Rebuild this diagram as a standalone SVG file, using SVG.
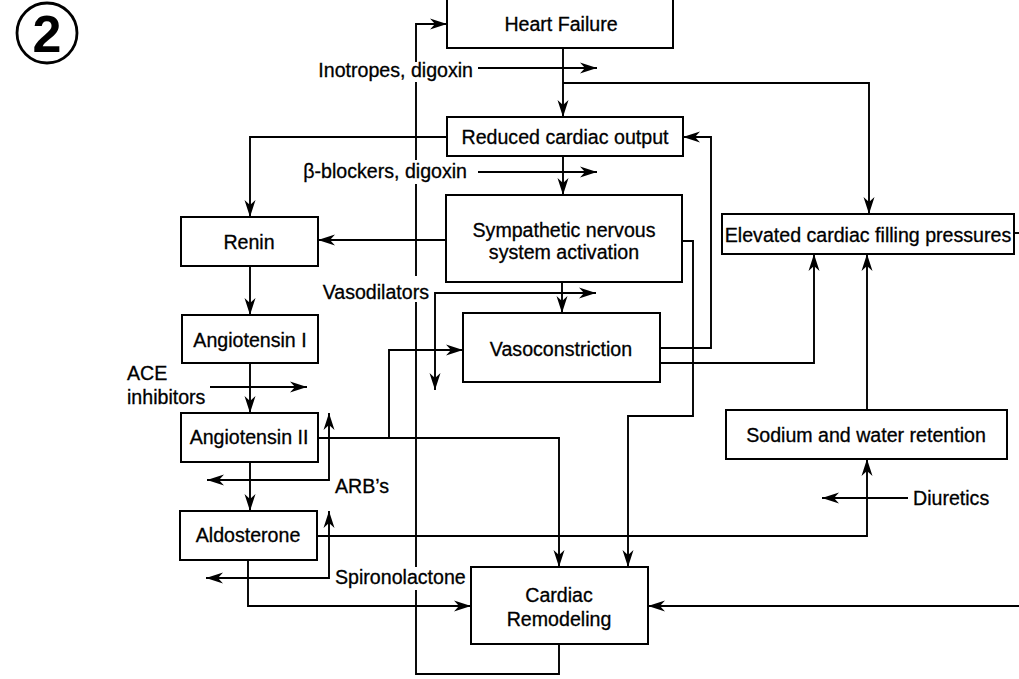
<svg xmlns="http://www.w3.org/2000/svg" width="1019" height="679" viewBox="0 0 1019 679">
<style>
.box{fill:#fff;stroke:#000;stroke-width:2}
.t{font-family:"Liberation Sans",Arial,sans-serif;font-size:19.6px;fill:#000;stroke:#000;stroke-width:0.3}
.c{text-anchor:middle}
.e{text-anchor:end}
.ln{fill:none;stroke:#000;stroke-width:1.9}
</style>
<defs>
<marker id="ah" markerUnits="userSpaceOnUse" markerWidth="20" markerHeight="14" viewBox="-18 -7 20 14" refX="0" refY="0" orient="auto-start-reverse">
<path d="M0,0 L-17,-5.5 L-12,0 L-17,5.5 Z" fill="#000"/>
</marker>
</defs>
<rect width="1019" height="679" fill="#fff"/>

<g id="label-2">
<circle cx="47" cy="33" r="30" fill="none" stroke="#000" stroke-width="2.8"/>
<text x="47" y="52" class="c" style="font-family:'Liberation Sans',Arial,sans-serif;font-weight:bold;font-size:52px">2</text>
</g>

<g id="connectors">
<path class="ln" d="M563,48 V117" marker-end="url(#ah)"/>
<path class="ln" d="M478,68 H597" marker-end="url(#ah)"/>
<path class="ln" d="M563,83 H869 V214" marker-end="url(#ah)"/>
<path class="ln" d="M447,137 H250 V217" marker-end="url(#ah)"/>
<path class="ln" d="M563,156 V195" marker-end="url(#ah)"/>
<path class="ln" d="M478,172 H597" marker-end="url(#ah)"/>
<path class="ln" d="M660,348 H711 V137 H683" marker-end="url(#ah)"/>
<path class="ln" d="M446,240 H318" marker-end="url(#ah)"/>
<path class="ln" d="M562,282 V313" marker-end="url(#ah)"/>
<path class="ln" d="M435,390 V293 H596" marker-start="url(#ah)" marker-end="url(#ah)"/>
<path class="ln" d="M682,241 H693 V416 H628 V567" marker-end="url(#ah)"/>
<path class="ln" d="M660,363 H814 V254" marker-end="url(#ah)"/>
<path class="ln" d="M867,410 V254" marker-end="url(#ah)"/>
<path class="ln" d="M250,266 V315" marker-end="url(#ah)"/>
<path class="ln" d="M210,387 H307" marker-end="url(#ah)"/>
<path class="ln" d="M250,363 V413" marker-end="url(#ah)"/>
<path class="ln" d="M318,438 H559 V567" marker-end="url(#ah)"/>
<path class="ln" d="M389,438 V350 H463" marker-end="url(#ah)"/>
<path class="ln" d="M207,480 H329 V413" marker-start="url(#ah)" marker-end="url(#ah)"/>
<path class="ln" d="M250,462 V511" marker-end="url(#ah)"/>
<path class="ln" d="M206,578 H329 V511" marker-start="url(#ah)" marker-end="url(#ah)"/>
<path class="ln" d="M317,536 H867 V459" marker-end="url(#ah)"/>
<path class="ln" d="M908,498 H822" marker-end="url(#ah)"/>
<path class="ln" d="M248,560 V606 H471" marker-end="url(#ah)"/>
<path class="ln" d="M1019,606 H648" marker-end="url(#ah)"/>
<path class="ln" d="M1014,233 H1019"/>
<path class="ln" d="M559,644 V674 H416 V590 M416,567 V302 M416,276 V184 M416,160 V82 M416,62 V24 H447" marker-end="url(#ah)"/>
</g>

<g id="drug-labels">
<text class="t e" x="473" y="77">Inotropes, digoxin</text>
<text class="t e" x="467" y="178">β-blockers, digoxin</text>
<text class="t e" x="429" y="299">Vasodilators</text>
<text class="t" x="127" y="380">ACE</text>
<text class="t" x="127" y="404">inhibitors</text>
<text class="t" x="335" y="493">ARB’s</text>
<text class="t" x="335" y="584">Spironolactone</text>
<text class="t" x="913" y="505">Diuretics</text>
</g>

<g id="heart-failure">
<rect class="box" x="447" y="-2" width="226" height="50"/>
<text class="t c" x="561" y="31">Heart Failure</text>
</g>
<g id="reduced-cardiac-output">
<rect class="box" x="447" y="117" width="236" height="39"/>
<text class="t c" x="565" y="144">Reduced cardiac output</text>
</g>
<g id="sympathetic">
<rect class="box" x="446" y="195" width="236" height="87"/>
<text class="t c" x="564" y="237">Sympathetic nervous</text>
<text class="t c" x="564" y="259">system activation</text>
</g>
<g id="vasoconstriction">
<rect class="box" x="463" y="313" width="197" height="69"/>
<text class="t c" x="561" y="356">Vasoconstriction</text>
</g>
<g id="elevated-filling-pressures">
<rect class="box" x="722" y="214" width="292" height="40"/>
<text class="t c" x="868" y="242">Elevated cardiac filling pressures</text>
</g>
<g id="sodium-water-retention">
<rect class="box" x="726" y="410" width="281" height="49"/>
<text class="t c" x="866" y="442">Sodium and water retention</text>
</g>
<g id="renin">
<rect class="box" x="181" y="217" width="137" height="49"/>
<text class="t c" x="249" y="249">Renin</text>
</g>
<g id="angiotensin-1">
<rect class="box" x="182" y="315" width="136" height="48"/>
<text class="t c" x="250" y="347">Angiotensin I</text>
</g>
<g id="angiotensin-2">
<rect class="box" x="181" y="413" width="137" height="49"/>
<text class="t c" x="249" y="444">Angiotensin II</text>
</g>
<g id="aldosterone">
<rect class="box" x="180" y="511" width="137" height="49"/>
<text class="t c" x="248" y="542">Aldosterone</text>
</g>
<g id="cardiac-remodeling">
<rect class="box" x="471" y="567" width="177" height="77"/>
<text class="t c" x="559" y="602">Cardiac</text>
<text class="t c" x="559" y="626">Remodeling</text>
</g>
</svg>
